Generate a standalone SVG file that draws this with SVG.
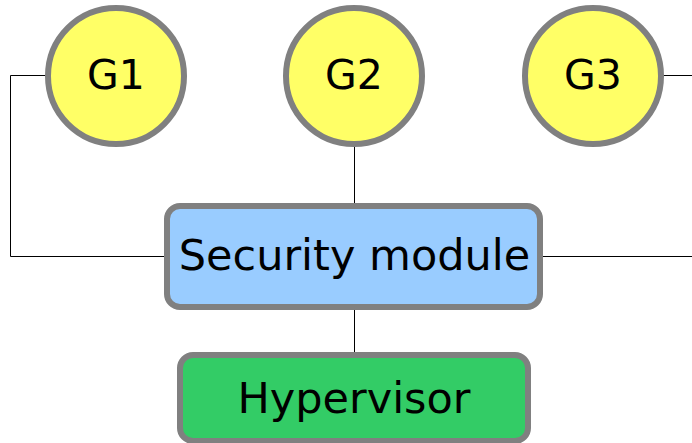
<svg xmlns="http://www.w3.org/2000/svg" width="692" height="443" viewBox="0 0 692 443">
  <style>
    .guest { fill: #ffff66; stroke: #808080; stroke-width: 6; }
    .box { stroke: #808080; stroke-width: 6; }
    .label { font-family: "DejaVu Sans", sans-serif; fill: #000; text-anchor: middle; }
    .wire { fill: none; stroke: #000; stroke-width: 1; }
  </style>
  <rect width="692" height="443" fill="#ffffff"/>
  <g id="connectors">
    <polyline class="wire" points="47,75.5 10.5,75.5 10.5,256.5 167,256.5"/>
    <line class="wire" x1="354.5" y1="144" x2="354.5" y2="206"/>
    <line class="wire" x1="540" y1="256.5" x2="692" y2="256.5"/>
    <line class="wire" x1="662" y1="75.5" x2="692" y2="75.5"/>
    <line class="wire" x1="354.5" y1="307" x2="354.5" y2="355"/>
  </g>
  <g id="g1">
    <circle class="guest" cx="116" cy="76" r="68"/>
    <text class="label" x="116" y="89" font-size="41">G1</text>
  </g>
  <g id="g2">
    <circle class="guest" cx="354" cy="76" r="68"/>
    <text class="label" x="354" y="89" font-size="41">G2</text>
  </g>
  <g id="g3">
    <circle class="guest" cx="593" cy="76" r="68"/>
    <text class="label" x="593" y="89" font-size="41">G3</text>
  </g>
  <g id="security-module">
    <rect class="box" x="167" y="206" width="373" height="101" rx="13" fill="#99ccff"/>
    <text class="label" x="354.5" y="270" font-size="43">Security module</text>
  </g>
  <g id="hypervisor">
    <rect class="box" x="180" y="355" width="348" height="86" rx="13" fill="#33cc66"/>
    <text class="label" x="354" y="413" font-size="43">Hypervisor</text>
  </g>
</svg>
